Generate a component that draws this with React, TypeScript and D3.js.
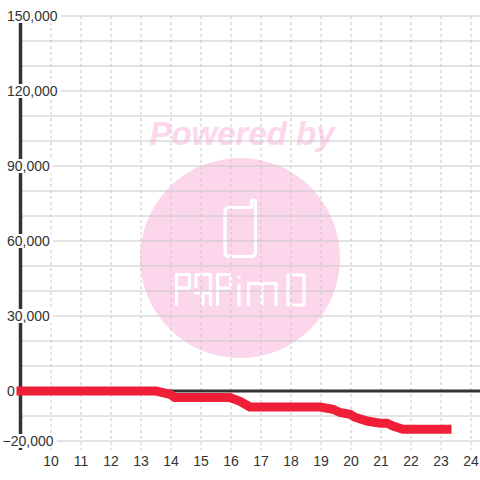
import React, { useEffect, useRef } from 'react';
import * as d3 from 'd3';

// hours of the day and running balance (yen)
const hours = [9, 13.5, 13.97, 14.13, 15.97, 16.3, 16.63, 18.97, 19.4, 19.63, 19.97, 20.13, 20.53, 20.97, 21.2, 21.4, 21.73, 23.2];
const balance = [0, 0, -1300, -2600, -2600, -4100, -6400, -6400, -7300, -8600, -9300, -10500, -12000, -12900, -12900, -14000, -15300, -15300];

const xTicks = [10, 11, 12, 13, 14, 15, 16, 17, 18, 19, 20, 21, 22, 23, 24];
const yLabelTicks = [150000, 120000, 90000, 60000, 30000, 0, -20000];
const yGridTicks = d3.range(-20000, 150001, 10000);

const FONT = '"Liberation Sans", Arial, sans-serif';

export default function App() {
  const svgRef = useRef<SVGSVGElement>(null);

  useEffect(() => {
    if (!svgRef.current) return;
    const W = 480, H = 480;
    const top = 16, bottom = 450, left = 21;

    const x = d3.scaleLinear().domain([9, 25]).range([left, left + 16 * 30]);
    const y = d3.scaleLinear().domain([-23600, 150000]).range([bottom, top]);

    const svg = d3.select(svgRef.current);
    svg.selectAll('*').remove();

    svg.append('rect').attr('width', W).attr('height', H).attr('fill', '#ffffff');

    // watermark
    const pink = '#fcd6eb';
    const wm = svg.append('g');
    wm.append('text')
      .attr('x', 242).attr('y', 145)
      .attr('text-anchor', 'middle')
      .style('font-family', FONT)
      .style('font-size', '33px')
      .style('font-weight', 'bold')
      .style('font-style', 'italic')
      .attr('fill', pink)
      .text('Powered by');
    wm.append('circle').attr('cx', 240).attr('cy', 258).attr('r', 100).attr('fill', pink);
    const logo = wm.append('g')
      .attr('fill', 'none')
      .attr('stroke', '#ffffff')
      .attr('stroke-width', 3.2)
      .attr('stroke-linejoin', 'round');
    logo.append('path')
      .attr('d', 'M251.5 207.5 L251.5 201.5 Q251.5 200 253.5 200 Q255.5 200 255.5 201.5 L255.5 252 Q255.5 256.5 251 256.5 L229.5 256.5 Q225 256.5 225 252 L225 212 Q225 207.5 229.5 207.5 Z');
    const letters = [
      // P
      'M176.5 306 L176.5 274.5 L189.5 274.5 L189.5 288 L176.5 288',
      // A
      'M196 288 L196 274.5 L210.5 274.5 L210.5 306 M194 293 L210.5 293 M203 293 L203 306',
      // P
      'M217.5 306 L217.5 274.5 L230.5 274.5 L230.5 288 L217.5 288',
      // i
      'M239 276 L239 278.5 M239 283.5 L239 306',
      // m
      'M248.5 306 L248.5 283.5 L276 283.5 L276 306 M262 283.5 L262 306',
      // O
      'M288 275 L304 275 L304 305 L288 305 Z',
    ];
    letters.forEach(d => logo.append('path').attr('d', d));

    // grid
    svg.append('g').selectAll('line')
      .data(yGridTicks)
      .enter().append('line')
      .attr('x1', left).attr('x2', W)
      .attr('y1', d => y(d)).attr('y2', d => y(d))
      .attr('stroke', '#c8c8c8').attr('stroke-width', 1);

    svg.append('g').selectAll('line')
      .data(xTicks)
      .enter().append('line')
      .attr('x1', d => x(d)).attr('x2', d => x(d))
      .attr('y1', top).attr('y2', bottom)
      .attr('stroke', '#c8c8c8').attr('stroke-width', 1)
      .attr('stroke-dasharray', '3,3');

    // zero line and y axis
    svg.append('line')
      .attr('x1', left).attr('x2', W)
      .attr('y1', y(0)).attr('y2', y(0))
      .attr('stroke', '#333333').attr('stroke-width', 3);
    svg.append('line')
      .attr('x1', 20.5).attr('x2', 20.5)
      .attr('y1', top).attr('y2', bottom)
      .attr('stroke', '#333333').attr('stroke-width', 3.5);

    // y labels with background boxes
    const fmt = d3.format(',');
    const yl = svg.append('g');
    yLabelTicks.forEach(v => {
      const t = yl.append('text')
        .attr('x', v < 0 ? 2.5 : 7)
        .attr('y', y(v))
        .attr('dy', '0.35em')
        .style('font-family', FONT)
        .style('font-size', '14px')
        .attr('fill', '#333333')
        .text(fmt(v));
      const bb = (t.node() as SVGTextElement).getBBox();
      yl.insert('rect', () => t.node())
        .attr('x', bb.x - 2).attr('y', y(v) - 7)
        .attr('width', bb.width + 5).attr('height', 14)
        .attr('fill', '#ffffff');
    });

    // x labels
    svg.append('g').selectAll('text')
      .data(xTicks)
      .enter().append('text')
      .attr('x', d => x(d))
      .attr('y', 466)
      .attr('text-anchor', 'middle')
      .style('font-family', FONT)
      .style('font-size', '14px')
      .attr('fill', '#333333')
      .text(d => d);

    // balance line
    const line = d3.line<number>()
      .x((_, i) => x(hours[i]))
      .y(d => y(d));
    svg.append('path')
      .datum(balance)
      .attr('fill', 'none')
      .attr('stroke', '#ee1f36')
      .attr('stroke-width', 9)
      .attr('stroke-linecap', 'square')
      .attr('stroke-linejoin', 'miter')
      .attr('d', line);
  }, []);

  return (
    <svg
      ref={svgRef}
      width={480}
      height={480}
      style={{ position: 'absolute', left: 0, top: 0 }}
    />
  );
}
